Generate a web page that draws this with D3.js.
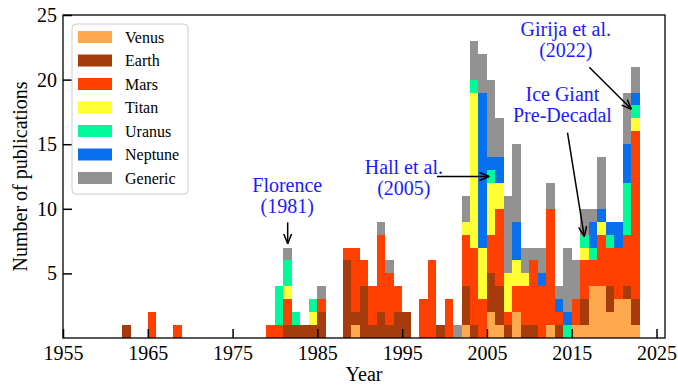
<!DOCTYPE html>
<html>
<head>
<meta charset="utf-8">
<script src="https://cdn.jsdelivr.net/npm/d3@7"></script>
<style>
  html, body { margin: 0; padding: 0; background: #fff; }
  svg { display: block; font-family: "Liberation Serif", "Times New Roman", serif; }
</style>
</head>
<body>
<svg id="chart" width="678" height="386"></svg>
<script>
// Publications per year, by target body
const years   = [1962,1965,1968,1979,1980,1981,1982,1983,1984,1985,
                 1988,1989,1990,1991,1992,1993,1994,1995,
                 1997,1998,1999,2000,2001,
                 2002,2003,2004,2005,2006,2007,2008,2009,2010,2011,2012,2013,2014,2015,2016,2017,2018,2019,2020,2021,2022];
const venus   = [0,0,0,0,0,0,0,0,0,0, 0,1,0,0,0,0,0,0, 0,0,0,0,0,
                 1,0,0,2,1,0,2,0,0,0,1,0,0,1,1,4,4,2,3,3,1];
const earth   = [1,0,0,0,0,1,1,1,1,2, 6,1,4,1,2,1,2,2, 0,0,1,0,0,
                 3,1,0,3,3,1,0,1,1,0,0,1,0,0,2,0,0,2,0,1,2];
const mars    = [0,2,1,1,1,2,0,0,0,1, 1,5,2,3,6,4,2,0, 3,6,0,3,0,
                 4,6,3,3,6,1,2,3,5,4,9,1,0,2,3,2,4,3,4,4,13];
const titan   = [0,0,0,0,0,1,0,0,1,0, 0,0,0,0,0,0,0,0, 0,0,0,0,0,
                 1,12,4,4,2,3,2,1,0,0,0,0,0,0,1,0,1,0,0,0,1];
const uranus  = [0,0,0,0,3,2,1,0,1,0, 0,0,0,0,0,0,0,0, 0,0,0,0,0,
                 0,1,0,1,0,0,0,0,0,0,0,0,1,0,1,1,0,1,0,4,1];
const neptune = [0,0,0,0,0,0,0,0,0,0, 0,0,0,0,0,0,0,0, 0,0,0,0,0,
                 0,0,12,1,2,0,3,0,0,1,0,1,1,0,0,2,1,1,2,3,1];
const generic = [0,0,0,0,0,1,0,0,0,1, 0,0,0,0,1,1,0,0, 0,0,0,0,1,
                 2,3,3,6,3,6,6,2,1,2,2,1,5,3,2,1,4,0,0,4,2];

const seriesNames  = ["Venus","Earth","Mars","Titan","Uranus","Neptune","Generic"];
const seriesValues = [venus, earth, mars, titan, uranus, neptune, generic];
const seriesColors = ["#FFA94F","#A63C0C","#FF4000","#FFFF33","#00FA9A","#0870EC","#929292"];

const xTicks = [1955,1965,1975,1985,1995,2005,2015,2025];
const yTicks = [5,10,15,20,25];

// Annotations: arrow tail/tip and label anchor in data units
const notes = [
  { lines:["Florence","(1981)"],            tx:1981.45, ty:11.3,  from:[1981.5, 8.95], to:[1981.5, 7.3] },
  { lines:["Hall et al.","(2005)"],         tx:1995.2,  ty:12.7,  from:[1999.1, 12.5], to:[2005.3, 12.5] },
  { lines:["Ice Giant","Pre-Decadal"],      tx:2013.9,  ty:18.35, from:[2014.5, 15.9], to:[2016.48, 7.85] },
  { lines:["Girija et al.","(2022)"],       tx:2014.3,  ty:23.4,  from:[2017.07, 20.95], to:[2022.05, 17.7] }
];

const svg = d3.select("#chart");
const margin = { left: 63, right: 13, top: 15, bottom: 48 };
const W = 678, H = 386;

const x = d3.scaleLinear().domain([1955, 2026]).range([margin.left, W - margin.right]);
const y = d3.scaleLinear().domain([0, 25]).range([H - margin.bottom, margin.top]);

// Stack the series
const rows = years.map((yr, i) => {
  const r = { year: yr };
  seriesNames.forEach((n, k) => { r[n] = seriesValues[k][i]; });
  return r;
});
const stacked = d3.stack().keys(seriesNames)(rows);

const barsG = svg.append("g").attr("shape-rendering", "crispEdges");
stacked.forEach((layer, k) => {
  barsG.append("g")
    .attr("fill", seriesColors[k])
    .selectAll("rect")
    .data(layer.filter(d => d[1] > d[0]))
    .join("rect")
    .attr("x", d => x(d.data.year))
    .attr("width", d => x(d.data.year + 1) - x(d.data.year))
    .attr("y", d => y(d[1]))
    .attr("height", d => y(d[0]) - y(d[1]));
});

// Axes with inward ticks
const xAxis = d3.axisBottom(x).tickValues(xTicks).tickFormat(d3.format("d"))
  .tickSizeInner(-9).tickSizeOuter(0).tickPadding(8);
const gx = svg.append("g").attr("transform", `translate(0,${y(0)})`).call(xAxis);
gx.select(".domain").remove();
gx.selectAll(".tick line").attr("stroke", "#000").attr("stroke-width", 1.5);
gx.selectAll(".tick text").attr("font-size", 20).attr("font-family", "Liberation Serif").attr("fill", "#000");

const yAxis = d3.axisLeft(y).tickValues(yTicks)
  .tickSizeInner(-9).tickSizeOuter(0).tickPadding(6);
const gy = svg.append("g").attr("transform", `translate(${x(1955)},0)`).call(yAxis);
gy.select(".domain").remove();
gy.selectAll(".tick line").attr("stroke", "#000").attr("stroke-width", 1.5);
gy.selectAll(".tick text").attr("font-size", 20).attr("font-family", "Liberation Serif").attr("fill", "#000");

// Frame
svg.append("rect")
  .attr("x", x(1955)).attr("y", y(25))
  .attr("width", x(2026) - x(1955)).attr("height", y(0) - y(25))
  .attr("fill", "none").attr("stroke", "#000").attr("stroke-width", 1.3);

// Axis titles
svg.append("text")
  .attr("x", (x(1955) + x(2026)) / 2).attr("y", 381)
  .attr("text-anchor", "middle").attr("font-size", 20).text("Year");
svg.append("text")
  .attr("transform", `translate(27,${(y(0) + y(25)) / 2}) rotate(-90)`)
  .attr("text-anchor", "middle").attr("font-size", 20).text("Number of publications");

// Legend
const lg = svg.append("g");
lg.append("rect")
  .attr("x", 72).attr("y", 24).attr("width", 116).attr("height", 170)
  .attr("rx", 4).attr("fill", "#fff").attr("fill-opacity", 0.85)
  .attr("stroke", "#cccccc").attr("stroke-width", 1);
seriesNames.forEach((n, k) => {
  const cy = 37 + k * 23.5;
  lg.append("rect").attr("x", 78).attr("y", cy - 6).attr("width", 34).attr("height", 12)
    .attr("fill", seriesColors[k]);
  lg.append("text").attr("x", 125).attr("y", cy + 5.5).attr("font-size", 16).text(n);
});

// Arrow head
svg.append("defs").append("marker")
  .attr("id", "head").attr("viewBox", "0 0 10 10")
  .attr("refX", 10).attr("refY", 5)
  .attr("markerWidth", 10).attr("markerHeight", 10)
  .attr("markerUnits", "userSpaceOnUse")
  .attr("orient", "auto")
  .append("path").attr("d", "M0,1 L10,5 L0,9")
  .attr("fill", "none").attr("stroke", "#000").attr("stroke-width", 1.5);

notes.forEach(a => {
  svg.append("line")
    .attr("x1", x(a.from[0])).attr("y1", y(a.from[1]))
    .attr("x2", x(a.to[0])).attr("y2", y(a.to[1]))
    .attr("stroke", "#000").attr("stroke-width", 1.5)
    .attr("marker-end", "url(#head)");
  const t = svg.append("text")
    .attr("text-anchor", "middle").attr("font-size", 20).attr("fill", "#1a1aff");
  a.lines.forEach((line, i) => {
    t.append("tspan").attr("x", x(a.tx)).attr("y", y(a.ty) + i * 21).text(line);
  });
});
</script>
</body>
</html>
